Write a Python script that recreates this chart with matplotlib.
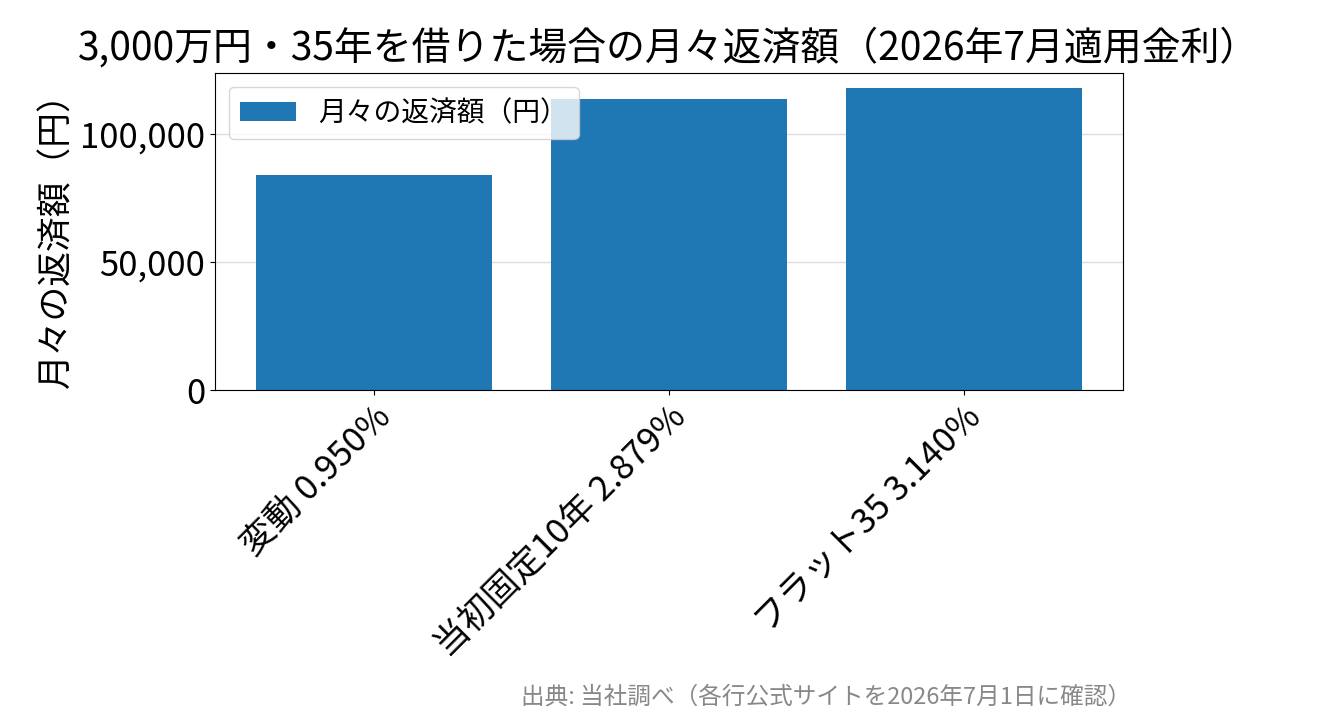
import matplotlib
matplotlib.use("Agg")
import matplotlib.pyplot as plt
from matplotlib.ticker import FuncFormatter

plt.rcParams['font.family'] = ['Noto Sans CJK JP', 'DejaVu Sans']

categories = ["変動 0.950%", "当初固定10年 2.879%", "フラット35 3.140%"]
payments = [83980, 113439, 117810]
title = "3,000万円・35年を借りた場合の月々返済額（2026年7月適用金利）"
source = "出典: 当社調べ（各行公式サイトを2026年7月1日に確認）"

fig = plt.figure(figsize=(13.19, 7.25), dpi=100)
ax = fig.add_axes([215/1319, 1-390/725, (1123-215)/1319, (390-73)/725])
ax.bar(categories, payments, color="#1f77b4", width=0.8, label="月々の返済額（円）", zorder=2)
ax.grid(axis='y', color='#dddddd', linewidth=1, zorder=0)
ax.set_axisbelow(True)
ax.yaxis.set_major_formatter(FuncFormatter(lambda v, p: f"{int(v):,}"))
ax.set_yticks([0, 50000, 100000])
ax.tick_params(labelsize=25)
plt.setp(ax.get_xticklabels(), rotation=45, ha='right', rotation_mode='anchor')
ax.set_ylabel("月々の返済額（円）", fontsize=25)
ax.set_title(title, fontsize=28, pad=10)
ax.legend(loc='upper left', fontsize=20)
fig.text(826/1319, 1-697/725, source, ha='center', va='center', fontsize=17, color='#888888')
fig.savefig("out.png", dpi=100)
